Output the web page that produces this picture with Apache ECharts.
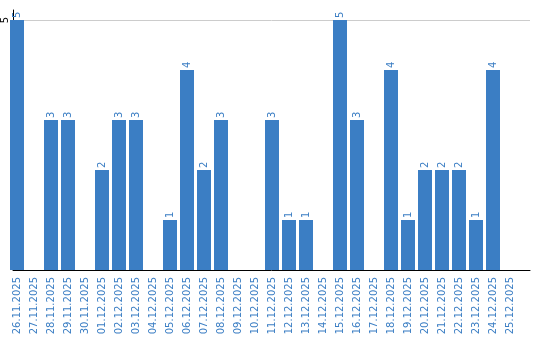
<!DOCTYPE html>
<html>
<head>
<meta charset="utf-8">
<script src="https://cdn.jsdelivr.net/npm/echarts@6/dist/echarts.min.js"></script>
<style>html,body{margin:0;padding:0;background:#fff}#c{width:540px;height:340px}</style>
</head>
<body>
<div id="c"></div>
<script>
const categories = ["26.11.2025","27.11.2025","28.11.2025","29.11.2025","30.11.2025","01.12.2025","02.12.2025","03.12.2025","04.12.2025","05.12.2025","06.12.2025","07.12.2025","08.12.2025","09.12.2025","10.12.2025","11.12.2025","12.12.2025","13.12.2025","14.12.2025","15.12.2025","16.12.2025","17.12.2025","18.12.2025","19.12.2025","20.12.2025","21.12.2025","22.12.2025","23.12.2025","24.12.2025","25.12.2025"];
const values = [5,0,3,3,0,2,3,3,0,1,4,2,3,0,0,3,1,1,0,5,3,0,4,1,2,2,2,1,4,0];
const yTicks = [5];

const blue = '#3b7ec4';
const font = 'DejaVu Sans';
const chart = echarts.init(document.getElementById('c'), null, {renderer: 'canvas'});
chart.setOption({
  animation: false,
  grid: [
    {left: 8.5, top: 10, width: 510, height: 260},
    {left: 10, top: 10, width: 520, height: 260}
  ],
  xAxis: [
    {gridIndex: 0, type: 'category', data: categories,
     axisLine: {show: false}, axisTick: {show: false},
     axisLabel: {interval: 0, rotate: 90, margin: 7, color: blue, fontFamily: font, fontSize: 10}},
    {gridIndex: 1, type: 'category', data: categories,
     axisLine: {show: true, lineStyle: {color: '#000', width: 1}}, axisTick: {show: false},
     axisLabel: {show: false}}
  ],
  yAxis: [
    {gridIndex: 0, type: 'value', min: 0, max: 5.2, show: false, splitLine: {show: false}},
    {gridIndex: 1, type: 'value', min: 0, max: 5.2, interval: 5,
     axisLine: {show: true, lineStyle: {color: '#000', width: 1}}, axisTick: {show: false},
     axisLabel: {rotate: 90, margin: 3, color: '#000', fontFamily: font, fontSize: 10,
       formatter: v => yTicks.includes(v) ? String(v) : ''},
     splitLine: {show: true, showMinLine: false, showMaxLine: false, lineStyle: {color: '#cccccc', width: 1}}}
  ],
  series: [{
    type: 'bar', xAxisIndex: 0, yAxisIndex: 0,
    data: values.map(v => v === 0 ? null : v),
    barWidth: 14,
    itemStyle: {color: blue},
    label: {show: true, position: 'top', distance: 2, rotate: 90, align: 'left', verticalAlign: 'middle',
      color: blue, fontFamily: font, fontSize: 10}
  }]
});
</script>
</body>
</html>
